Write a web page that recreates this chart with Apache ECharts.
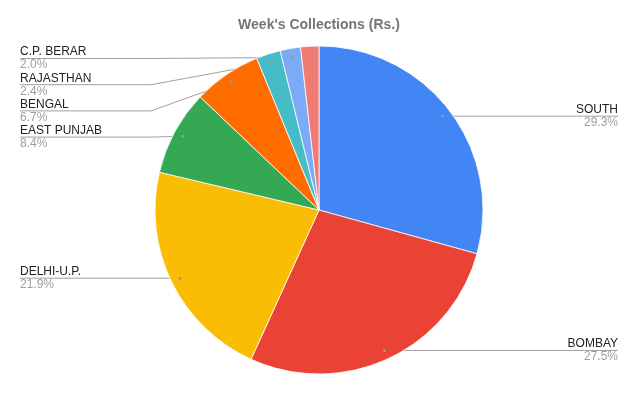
<!DOCTYPE html>
<html>
<head>
<meta charset="utf-8">
<title>Week's Collections (Rs.)</title>
<script src="https://cdn.jsdelivr.net/npm/echarts@6/dist/echarts.min.js"></script>
<style>
  html, body { margin: 0; padding: 0; background: #fff; }
  #c { width: 638px; height: 394px; }
</style>
</head>
<body>
<div id="c"></div>
<script>
// Weekly collections by territory (share of total, %)
const regions = ['SOUTH', 'BOMBAY', 'DELHI-U.P.', 'EAST PUNJAB', 'BENGAL', 'RAJASTHAN', 'C.P. BERAR', 'OTHERS'];
const shares = [29.3, 27.5, 21.9, 8.4, 6.7, 2.4, 2.0, 1.8];
const sliceColors = ['#4285F4', '#EA4335', '#FBBC04', '#34A853', '#FF6D01', '#46BDC6', '#7BAAF7', '#F07B72'];
const showLabel = [true, true, true, true, true, true, true, false];

const chart = echarts.init(document.getElementById('c'), null, { renderer: 'canvas' });
const W = chart.getWidth();

// pie geometry
const CX = 319, CY = 210, R = 164;
const ANCHOR_R = R * 0.945;   // where each leader line starts, inside the slice
const EDGE = 20;              // label distance from the chart edge
const ROW = 26.2;             // minimum vertical gap between stacked labels
const TOP = 58.5;             // highest allowed label row

const total = shares.reduce((a, b) => a + b, 0);

// mid-angle anchor of every slice (clockwise from 12 o'clock)
const anchors = [];
let acc = 0;
shares.forEach(v => {
  const mid = (acc + v / 2) / total * 2 * Math.PI;
  acc += v;
  anchors.push({
    x: CX + ANCHOR_R * Math.sin(mid),
    y: CY - ANCHOR_R * Math.cos(mid),
    left: Math.sin(mid) < 0
  });
});

// stack labels on each side top-down so they never overlap
[true, false].forEach(isLeft => {
  const idx = anchors.map((a, i) => i)
    .filter(i => showLabel[i] && anchors[i].left === isLeft)
    .sort((a, b) => anchors[a].y - anchors[b].y);
  let prev = TOP - ROW;
  idx.forEach(i => {
    anchors[i].ly = Math.max(anchors[i].y, prev + ROW);
    prev = anchors[i].ly;
  });
});

const FONT = '"Liberation Sans", Arial, sans-serif';

chart.setOption({
  backgroundColor: '#ffffff',
  animation: false,
  title: {
    text: "Week's Collections (Rs.)",
    left: 'center',
    top: 18,
    padding: 0,
    textStyle: { fontFamily: FONT, fontSize: 14, fontWeight: 'bold', color: '#757575' }
  },
  graphic: anchors
    .filter((a, i) => showLabel[i])
    .map(a => ({
      type: 'circle',
      z: 100,
      silent: true,
      shape: { cx: a.x, cy: a.y, r: 1.5 },
      style: { fill: '#999999' }
    })),
  series: [{
    type: 'pie',
    center: [CX, CY],
    radius: R,
    startAngle: 90,
    clockwise: true,
    percentPrecision: 1,
    avoidLabelOverlap: false,
    emphasis: { disabled: true },
    itemStyle: { borderColor: '#ffffff', borderWidth: 0.8 },
    label: {
      position: 'outer',
      fontFamily: FONT,
      formatter: p => '{n|' + p.name + '}\n{p|' + p.percent.toFixed(1) + '%}',
      rich: {
        n: { fontFamily: FONT, fontSize: 12, color: '#222222', lineHeight: 13 },
        p: { fontFamily: FONT, fontSize: 12, color: '#9e9e9e', lineHeight: 13 }
      }
    },
    labelLine: {
      show: true,
      smooth: false,
      length: 10,
      length2: 10,
      lineStyle: { color: '#a0a0a0', width: 1 }
    },
    labelLayout: function (p) {
      const i = p.dataIndex;
      if (!showLabel[i]) return {};
      const a = anchors[i];
      const edgeX = a.left ? EDGE : W - EDGE;
      const bendX = a.left ? CX - R - 4 : CX + R + 4;
      return {
        x: edgeX,
        y: a.ly,
        align: a.left ? 'left' : 'right',
        verticalAlign: 'middle',
        labelLinePoints: [[a.x, a.y], [bendX, a.ly], [edgeX, a.ly]]
      };
    },
    data: regions.map((name, i) => ({
      name: name,
      value: shares[i],
      itemStyle: { color: sliceColors[i] },
      label: { show: showLabel[i] },
      labelLine: { show: showLabel[i] }
    }))
  }]
});
</script>
</body>
</html>
